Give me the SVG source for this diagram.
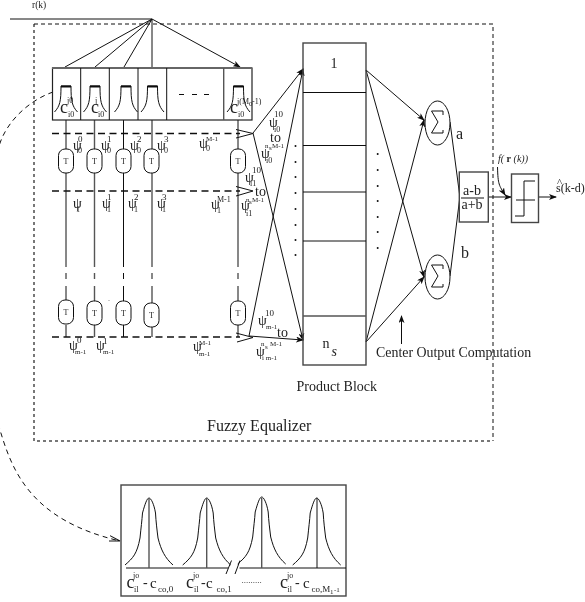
<svg xmlns="http://www.w3.org/2000/svg" width="585" height="602" viewBox="0 0 585 602">
<style>
text{font-family:"Liberation Serif","Times New Roman",serif;fill:#222}
.l{stroke:#111;stroke-width:1;fill:none}
.g{stroke:#555;stroke-width:1.4;fill:none}
.d{stroke:#111;stroke-width:1.3;fill:none;stroke-dasharray:7 4.500}
.s{font-size:8px}.t{font-size:7px}.p{font-size:14px}.b{font-size:14px}
.c{font-size:18px}.e{font-size:15px}.u{font-size:9px}
.box{fill:none;stroke:#444;stroke-width:1.4}
</style>
<defs>
<filter id="soft" x="0" y="0" width="100%" height="100%" filterUnits="userSpaceOnUse" primitiveUnits="userSpaceOnUse"><feGaussianBlur stdDeviation="0.3"/></filter>
<marker id="a" markerWidth="8" markerHeight="6" refX="7" refY="3" orient="auto" markerUnits="userSpaceOnUse"><path d="M0 0L8 3L0 6L2 3Z" fill="#111"/></marker>
<marker id="o" markerWidth="12" markerHeight="8" refX="11" refY="4" orient="auto" markerUnits="userSpaceOnUse"><path d="M0 1L11 4L0 6.500" fill="none" stroke="#111"/></marker>
<path id="bell" d="M-11.500 26C-6 20-5 15-5 0H5C5 15 6 20 11.500 26" fill="none" stroke="#111"/>
<path id="bell2" d="M-24 67C-16 60-12 56-9 40C-8 30-7 22-6.500 15C-4 6-2 0 0 0C2 0 5 6 6.500 15C7 24 8 32 9 40C12 52 16 60 24 67" fill="none" stroke="#111"/>
<g id="T"><rect x="-7.500" y="-12" width="15" height="24" rx="6.500" fill="#fff" stroke="#111"/><text y="3" text-anchor="middle" class="s">T</text></g>
</defs>
<g filter="url(#soft)">
<rect width="585" height="602" fill="#fff"/>
<g id="connectors">
<path class="l" d="M10 19H152"/>
<path class="l" marker-end="url(#a)" d="M152 19L65 67M152 19L95 67M152 19L124 67M152 19V67M152 19L240 67"/>
<path fill="none" stroke="#777" stroke-width="2" stroke-dasharray="3 3" d="M34 24V441H493"/>
<path fill="none" stroke="#111" stroke-dasharray="4 3" d="M34 24H493V441"/>
<path class="l" d="M66 120V267M66 286V301M66 273V279M66 325V337M123.500 120V267M123.500 286V301M123.500 273V279M123.500 325V337"/>
<path class="g" d="M94.500 120V267M94.500 286V301M94.500 273V279M94.500 325V337M152 120V267M152 286V303M152 273V279M152 327V337M238 120V267M238 286V301M238 273V279M238 325V337"/>
<path class="d" d="M52 133.500H240M52 191H240M52 337H240"/>
<path class="l" stroke-width="1.300" d="M236 129.500L253 133.500L236 138M236 186.500L253 191L236 196M236 333L253 337.500L237 342"/>
<path class="l" d="M253 133L303 69" marker-end="url(#a)"/>
<path class="l" d="M253 133L303 340" marker-end="url(#a)"/>
<path class="l" d="M249 336L303 69" marker-end="url(#a)"/>
<path class="l" d="M249 336L303 340" marker-end="url(#a)"/>
<path class="l" marker-end="url(#a)" d="M366 70L424 120"/>
<path class="l" marker-end="url(#a)" d="M366 70L424 277"/>
<path class="l" marker-end="url(#a)" d="M366 342L424 120"/>
<path class="l" marker-end="url(#a)" d="M366 342L424 277"/>
<path class="l" d="M450 122L459.500 194V200L450 276"/>
<path class="l" d="M488 197H511" marker-end="url(#a)"/>
<path class="l" d="M538 197H556" marker-end="url(#a)"/>
<path class="l" d="M497.500 167C498 185 499 185 505 195" marker-end="url(#a)"/>
<path class="l" d="M401.500 344V316" marker-end="url(#a)"/>
<path class="l" stroke-dasharray="5 4" marker-end="url(#o)" d="M53 92C30 100 8 120 0 143C-25 220-25 350 0 430C12 470 30 520 120 541"/>
</g>
<g id="filter-bank">
<rect x="52.500" y="68" width="199.500" height="52" fill="none" stroke="#222" stroke-width="1.200"/>
<path d="M52 68H252" stroke="#666" stroke-width="1.800"/>
<path class="l" d="M80.700 68V120M109.300 68V120M138 68V120M166.700 68V120"/><path class="g" d="M223.700 68V120"/>
<use href="#bell" x="66" y="86"/><use href="#bell" x="95" y="86"/><use href="#bell" x="126" y="86"/><use href="#bell" x="152.500" y="86"/><use href="#bell" x="238.500" y="86"/>
<path d="M61 86.500H71M90 86.500H100M121 86.500H131M147.500 86.500H157.500M233.500 86.500H243.500" stroke="#111" stroke-width="2"/>
<path d="M179 94.500H184M192 94.500H197M204 94.500H209" stroke="#111"/>
<text x="60" y="113" class="c">c</text><text x="67" y="103" class="s">j0</text><text x="68" y="117" class="s">i0</text>
<text x="91" y="113" class="c">c</text><text x="95" y="103" class="s">j</text><text x="98" y="117" class="s">i0</text>
<text x="230" y="113" class="c">c</text><text x="237" y="104" class="s">j(M</text><text x="249" y="106" class="t">0</text><text x="252" y="104" class="s">-1)</text><text x="238" y="117" class="s">i0</text>
</g>
<g id="delays">
<use href="#T" x="66" y="161"/><use href="#T" x="94.500" y="161"/><use href="#T" x="123.500" y="161"/><use href="#T" x="151.500" y="161"/><use href="#T" x="238" y="161"/>
<use href="#T" x="66" y="312"/><use href="#T" x="94.500" y="313"/><use href="#T" x="123.500" y="313"/><use href="#T" x="151.500" y="315"/><use href="#T" x="238" y="313"/>
</g>
<g id="labels">
<text x="32" y="8" font-size="9.500">r(k)</text>
<text x="73" y="150" class="p">ψ</text><text x="78" y="142" class="u">0</text><text x="78" y="153" class="s">0</text>
<text x="101" y="150" class="p">ψ</text><text x="107" y="142" class="u">1</text><text x="107" y="153" class="s">0</text>
<text x="130" y="150" class="p">ψ</text><text x="137" y="142" class="u">2</text><text x="137" y="153" class="s">0</text>
<text x="157" y="150" class="p">ψ</text><text x="164" y="142" class="u">3</text><text x="164" y="153" class="s">0</text>
<text x="199" y="148" class="p">ψ</text><text x="206" y="141" class="t">M-1</text><text x="206" y="151" class="s">0</text>
<text x="269" y="127" class="p">ψ</text><text x="274" y="117" class="u">10</text><text x="274" y="132" class="s">i0</text>
<text x="270" y="142" class="b">to</text>
<text x="261" y="158" class="p">ψ</text><text x="265" y="148" class="t">n</text><text x="269" y="150" class="t">s</text><text x="272" y="148" class="t">M-1</text><text x="266" y="163" class="s">i0</text>
<text x="245" y="182" class="p">ψ</text><text x="252" y="173" class="u">10</text><text x="250" y="186" class="s">i1</text>
<text x="255" y="196" class="p">to</text>
<text x="241" y="210" class="p">ψ</text><text x="246" y="202" class="t">n</text><text x="249" y="204" class="t">s</text><text x="252" y="202" class="t">M-1</text><text x="246" y="216" class="s">i1</text>
<text x="73" y="208" class="p">ψ</text><text x="76" y="212" class="s">1</text>
<text x="102" y="208" class="p">ψ</text><text x="107" y="200" class="u">1</text><text x="107" y="212" class="s">1</text>
<text x="128" y="208" class="p">ψ</text><text x="134" y="200" class="u">2</text><text x="134" y="212" class="s">1</text>
<text x="157" y="208" class="p">ψ</text><text x="162" y="200" class="u">3</text><text x="162" y="212" class="s">1</text>
<text x="211" y="209" class="p">ψ</text><text x="217" y="202" class="s">M-1</text><text x="217" y="213" class="s">1</text>
<text x="69" y="350" class="p">ψ</text><text x="77" y="343" class="u">0</text><text x="75" y="354" class="t">m-1</text>
<text x="96" y="350" class="p">ψ</text><text x="103" y="344" class="u">1</text><text x="103" y="354" class="t">m-1</text>
<text x="193" y="351" class="p">ψ</text><text x="199" y="345" class="t">M-1</text><text x="199" y="356" class="t">m-1</text>
<text x="258" y="325" class="p">ψ</text><text x="265" y="316" class="u">10</text><text x="266" y="329" class="t">m-1</text>
<text x="277" y="337" class="b">to</text>
<text x="256" y="356" class="p">ψ</text><text x="261" y="346" class="t">n</text><text x="265" y="349" class="t">s</text><text x="270" y="346" class="t">M-1</text><text x="262" y="360" class="t">i m-1</text>
<circle cx="109" cy="300.500" r=".6" fill="#888"/>
</g>
<g id="product-block">
<rect x="303" y="43" width="63" height="322" class="box"/>
<path class="l" d="M303 92.500H366M303 145.500H366M303 192H366M303 241H366"/><path class="g" d="M303 316H366"/>
<text x="330.500" y="68" class="p">1</text>
<text x="322.500" y="348" class="p">n</text><text x="331.500" y="356" class="p" font-style="italic">s</text>
<text x="296.500" y="391" font-size="14">Product Block</text>
<g fill="#111"><circle cx="295.500" cy="146" r="1"/><circle cx="295.500" cy="162" r="1"/><circle cx="295.500" cy="177" r="1"/><circle cx="295.500" cy="193" r="1"/><circle cx="295.500" cy="209" r="1"/><circle cx="295.500" cy="225" r="1"/><circle cx="295.500" cy="240" r="1"/><circle cx="295.500" cy="255" r="1"/>
<circle cx="377.700" cy="154" r="1"/><circle cx="377.700" cy="170" r="1"/><circle cx="377.700" cy="186" r="1"/><circle cx="377.700" cy="201" r="1"/><circle cx="377.700" cy="217" r="1"/><circle cx="377.700" cy="232" r="1"/><circle cx="377.700" cy="248" r="1"/></g>
</g>
<g id="sum-a"><ellipse cx="437.500" cy="123" rx="12.500" ry="22" fill="#fff" stroke="#111"/><path class="l" d="M443 115V111H431.500L438 122L431.500 133H443V130"/><text x="456" y="139" font-size="16">a</text></g>
<g id="sum-b"><ellipse cx="437.500" cy="277" rx="12.500" ry="22" fill="#fff" stroke="#111"/><path class="l" d="M443 269V265H431.500L438 276L431.500 287H443V284"/><text x="461" y="258" font-size="16">b</text></g>
<g id="ratio"><rect x="459.300" y="172" width="29" height="50" class="box"/><text x="472" y="195" text-anchor="middle" class="p">a-b</text><path class="l" d="M461 198H484"/><text x="472" y="209" text-anchor="middle" class="p">a+b</text></g>
<g id="slicer"><rect x="511.500" y="174" width="27" height="48.500" class="box"/><path class="l" stroke-width="1.300" d="M515 216H524V181H535M516 200H535"/></g>
<text x="498" y="162" font-size="10" font-style="italic">f( <tspan font-weight="bold" font-style="normal">r</tspan> (k))</text>
<text x="556" y="192" font-size="12">s(k-d)</text><text x="557" y="186" font-size="11">^</text>
<text x="376" y="356.500" font-size="13.900">Center Output Computation</text>
<text x="207" y="431" font-size="16">Fuzzy Equalizer</text>
<g id="bottom-box">
<rect x="121" y="485" width="225" height="111" class="box"/>
<path class="l" d="M126 568H228M239.500 568H346"/>
<path class="l" d="M226 574L231.500 560.500M235 574L240 560.500"/>
<use href="#bell2" x="149" y="498"/><use href="#bell2" x="206.700" y="498"/><use href="#bell2" x="261.700" y="497"/><use href="#bell2" x="316.700" y="498"/>
<path class="g" d="M149 498V568M206.700 498V568M261.700 498V568"/><path class="l" d="M317 498V568"/>
<text x="126.500" y="588" class="c">c</text><text x="133" y="578" class="s">jo</text><text x="134" y="592" class="s">il</text><text x="143" y="587" class="p">-</text><text x="150" y="588" class="e">c</text><text x="158" y="592" class="u">co,0</text>
<text x="186" y="588" class="c">c</text><text x="193" y="578" class="s">jo</text><text x="194" y="592" class="s">il</text><text x="201" y="587" class="p">-</text><text x="206" y="588" class="e">c</text><text x="216.500" y="592" class="u">co,1</text>
<text x="241.500" y="583" font-size="9">.........</text>
<text x="280" y="588" class="c">c</text><text x="287" y="578" class="s">jo</text><text x="287.500" y="592" class="s">il</text><text x="295" y="587" class="p">-</text><text x="303" y="588" class="e">c</text><text x="311.500" y="592" class="u">co,M</text><text x="330" y="594" class="t">1</text><text x="334" y="592" class="t">-1</text>
</g>
</g>
</svg>
